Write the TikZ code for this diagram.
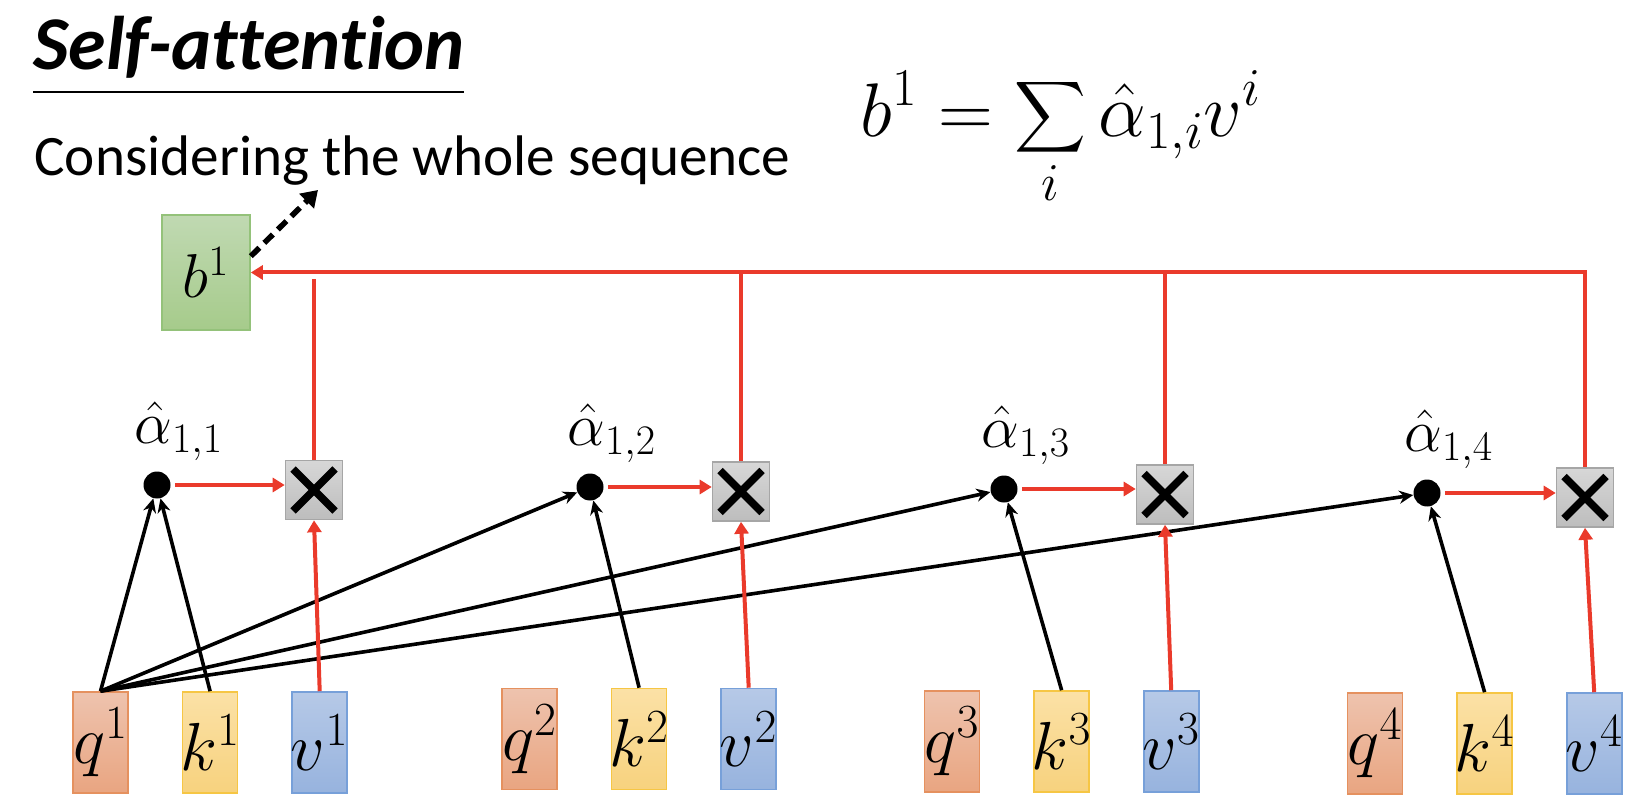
\RequirePackage{fix-cm}
\documentclass[tikz,border=0pt]{standalone}
\usepackage{amsmath}
\usepackage{fontspec}
\newfontfamily\calibri[Ligatures=NoCommon]{Carlito}
\usetikzlibrary{positioning,arrows.meta,calc}
\definecolor{qTop}{HTML}{EEC3AE}
\definecolor{qBot}{HTML}{E9A581}
\definecolor{qLine}{HTML}{E5915F}
\definecolor{kTop}{HTML}{FBE1A6}
\definecolor{kBot}{HTML}{F7D27E}
\definecolor{kLine}{HTML}{F6C644}
\definecolor{vTop}{HTML}{B6C9E7}
\definecolor{vBot}{HTML}{97B3DE}
\definecolor{vLine}{HTML}{77A0D9}
\definecolor{bTop}{HTML}{C0D9B2}
\definecolor{bBot}{HTML}{A6CB8B}
\definecolor{bLine}{HTML}{94C27A}
\definecolor{mulTop}{HTML}{D7D7D7}
\definecolor{mulBot}{HTML}{BDBDBD}
\definecolor{mulLine}{HTML}{A6A6A6}
\definecolor{attnRed}{HTML}{EA3A2B}
\newcommand{\tok}[2]{\makebox[0pt]{$#1^{#2}$}}

\begin{document}
\begin{tikzpicture}[x=0.5pt, y=-0.5pt, >=Stealth, node distance=26pt and 26.5pt,
          vec/.style={minimum width=27.5pt, minimum height=50.5pt, inner sep=0pt, line width=0.8pt, font=\fontsize{34}{38}\selectfont},
          qvec/.style={vec, draw=qLine, top color=qTop, bottom color=qBot},
          kvec/.style={vec, draw=kLine, top color=kTop, bottom color=kBot},
          vvec/.style={vec, draw=vLine, top color=vTop, bottom color=vBot},
          dot/.style={circle, fill=black, minimum size=13.5pt, inner sep=0pt},
          alab/.style={font=\fontsize{30}{34}\selectfont, xshift=11pt, inner sep=1pt, label distance=4pt},
          mul/.style={draw=mulLine, line width=0.8pt, top color=mulTop, bottom color=mulBot, minimum width=28.5pt, minimum height=29.5pt, inner sep=0pt,
            path picture={\draw[black, line width=3.8pt] ($(path picture bounding box.center)+(-10.5pt,-10.5pt)$) -- ($(path picture bounding box.center)+(10.5pt,10.5pt)$);
                          \draw[black, line width=3.8pt] ($(path picture bounding box.center)+(-10.5pt,10.5pt)$) -- ($(path picture bounding box.center)+(10.5pt,-10.5pt)$);}},
          redarr/.style={draw=attnRed, line width=2pt, -{Triangle[length=6pt,width=7pt]}},
          redline/.style={draw=attnRed, line width=2pt},
          blkarr/.style={line width=1.8pt, -{Stealth[length=7pt,width=6.5pt]}}]
        \useasboundingbox (0,0) rectangle (1642,796);
        \node[anchor=base west, inner sep=0pt, font=\calibri\bfseries\itshape\fontsize{38}{44}\selectfont] (title) at (33,70) {Self-attention};
        \draw[line width=1pt] (33,92) -- (464,92);
        \node[anchor=base west, inner sep=0pt, font=\calibri\fontsize{28.6}{34}\selectfont] (whole) at (34,176) {Considering the whole sequence};
        \node[anchor=west, inner sep=0pt, font=\fontsize{38}{44}\selectfont] (sumeq) at (860,138) {$\displaystyle b^1=\sum_i \hat{\alpha}_{1,i}v^i$};
        \node[vec, draw=bLine, top color=bTop, bottom color=bBot, minimum width=44pt, minimum height=57.5pt, font=\fontsize{31}{36}\selectfont] (b1) at (206,272.5) {$b^1$};
        \coordinate (seqtip) at (318,190);
        % inputs
        \node[qvec] (q1) at (100.5,742.5) {\tok{q}{1}};
        \node[kvec, right=of q1] (k1) {\tok{k}{1}};
        \node[vvec, right=of k1] (v1) {\tok{v}{1}};
        \node[qvec] (q2) at (529.5,739) {\tok{q}{2}};
        \node[kvec, right=of q2] (k2) {\tok{k}{2}};
        \node[vvec, right=of k2] (v2) {\tok{v}{2}};
        \node[qvec] (q3) at (952,741.5) {\tok{q}{3}};
        \node[kvec, right=of q3] (k3) {\tok{k}{3}};
        \node[vvec, right=of k3] (v3) {\tok{v}{3}};
        \node[qvec] (q4) at (1375,743.5) {\tok{q}{4}};
        \node[kvec, right=of q4] (k4) {\tok{k}{4}};
        \node[vvec, right=of k4] (v4) {\tok{v}{4}};
        % attention scores and products
        \node[dot, label={[alab]above:$\hat{\alpha}_{1,1}$}] (a1) at (157,485) {};
        \node[dot, label={[alab]above:$\hat{\alpha}_{1,2}$}] (a2) at (590,487) {};
        \node[dot, label={[alab]above:$\hat{\alpha}_{1,3}$}] (a3) at (1004,489) {};
        \node[dot, label={[alab]above:$\hat{\alpha}_{1,4}$}] (a4) at (1427,493) {};
        \node[mul] (m1) at (314,490) {};
        \node[mul] (m2) at (741,491.5) {};
        \node[mul] (m3) at (1165,494.5) {};
        \node[mul] (m4) at (1585,497.5) {};
        \draw[blkarr] (q1.north) -- (a1);
        \draw[blkarr] (k1.north) -- (a1);
        \draw[blkarr] (q1.north) -- (a2);
        \draw[blkarr] (q1.north) -- (a3);
        \draw[blkarr] (q1.north) -- (a4);
        \draw[blkarr] (k2.north) -- (a2);
        \draw[blkarr] (k3.north) -- (a3);
        \draw[blkarr] (k4.north) -- (a4);
        \draw[redarr, shorten <=2pt] (a1.east) -- (a1.east -| m1.west);
        \draw[redarr, shorten <=2pt] (a2.east) -- (a2.east -| m2.west);
        \draw[redarr, shorten <=2pt] (a3.east) -- (a3.east -| m3.west);
        \draw[redarr, shorten <=2pt] (a4.east) -- (a4.east -| m4.west);
        \draw[redarr] (v1.north) -- (m1.south);
        \draw[redarr] (v2.north) -- (m2.south);
        \draw[redarr] (v3.north) -- (m3.south);
        \draw[redarr] (v4.north) -- (m4.south);
        \draw[redarr] (m4.north) |- (b1.east);
        \draw[redline] (m3.north) -- (m3.north |- b1.east);
        \draw[redline] (m2.north) -- (m2.north |- b1.east);
        \draw[redline, shorten >=3.5pt] (m1.north) -- (m1.north |- b1.east);
        \draw[line width=2.8pt, dash pattern=on 6pt off 3.5pt, -{Triangle[length=8pt,width=10pt]}] (b1.20) -- (seqtip);
      \end{tikzpicture}
\end{document}
